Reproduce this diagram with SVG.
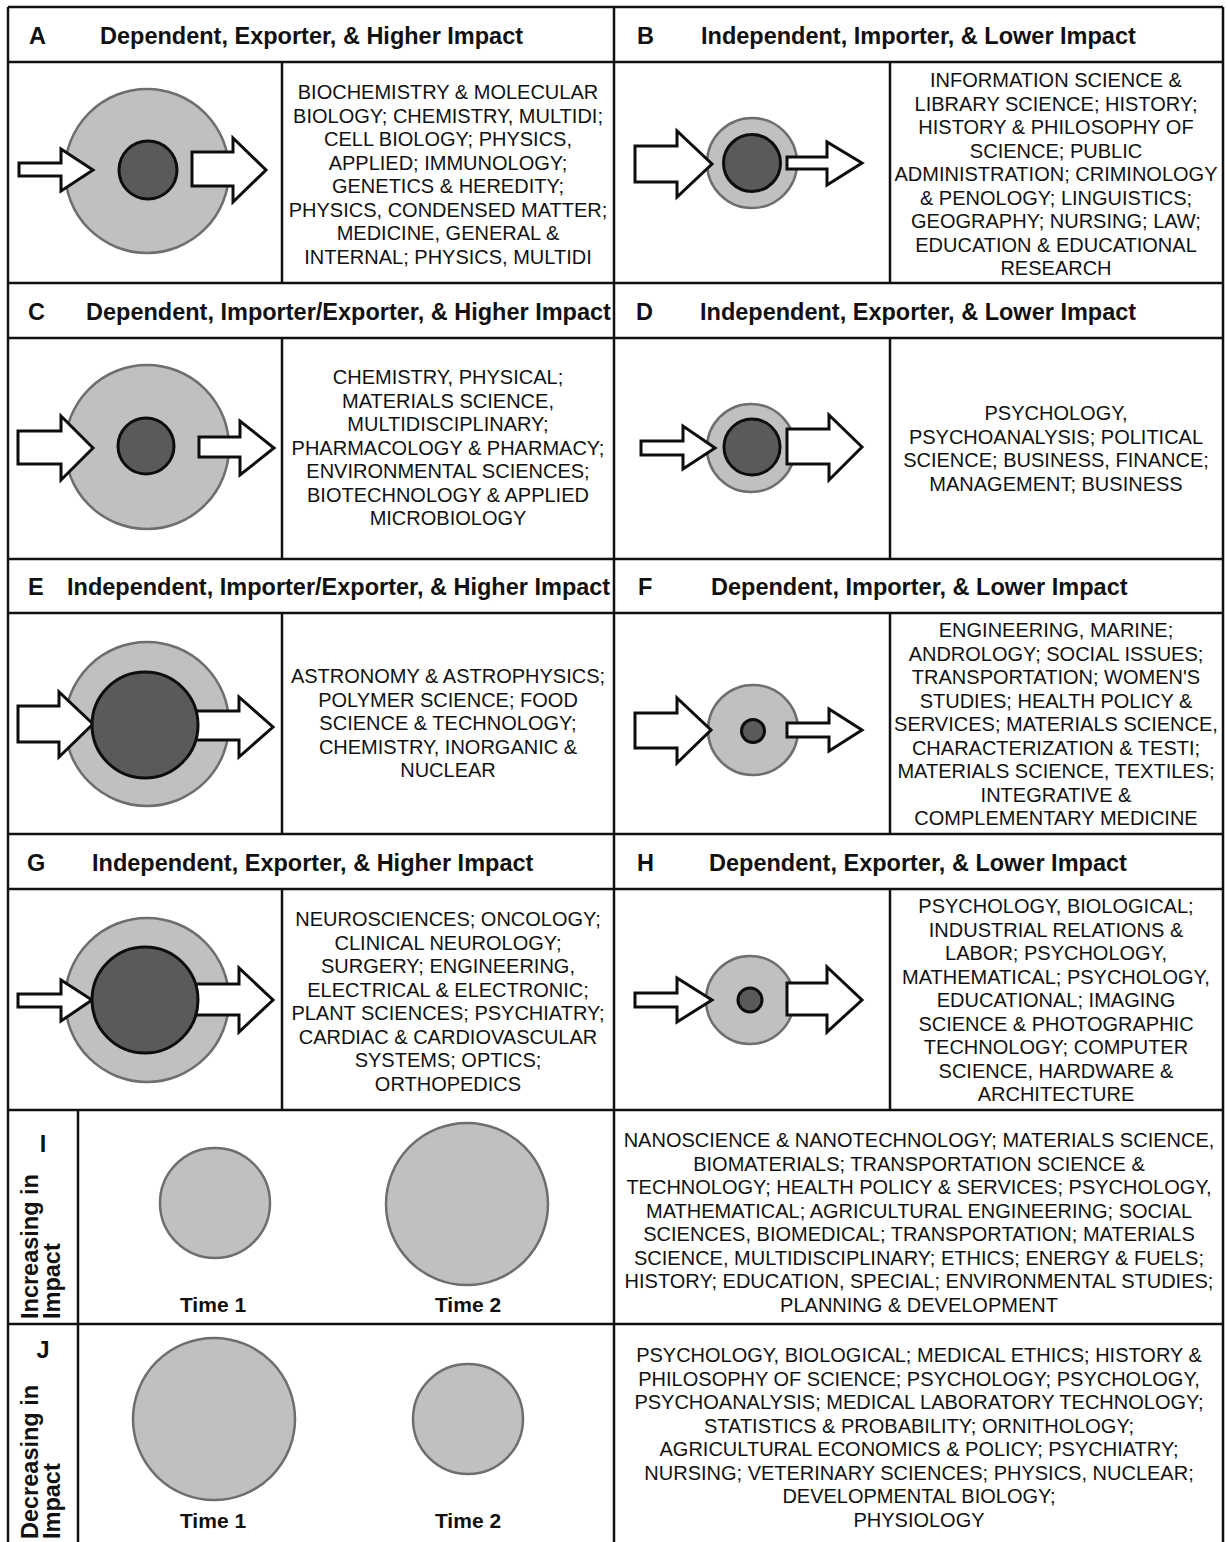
<svg xmlns="http://www.w3.org/2000/svg" width="1228" height="1542" viewBox="0 0 1228 1542">
<style>
.grid{stroke:#111;stroke-width:2.5;fill:none}
.outer{fill:#c0c0c0;stroke:#6e6e6e;stroke-width:2.5}
.inner{fill:#5a5a5a;stroke:#0d0d0d;stroke-width:3}
.arrow{fill:#fff;stroke:#0d0d0d;stroke-width:3;stroke-linejoin:miter}
.hd{font-family:"Liberation Sans",Arial,sans-serif;font-weight:bold;font-size:23.5px;fill:#111}
.body{font-family:"Liberation Sans",Arial,sans-serif;font-size:20px;fill:#111;text-anchor:middle}
.time{font-family:"Liberation Sans",Arial,sans-serif;font-weight:bold;font-size:21px;fill:#111;text-anchor:middle}
</style>
<rect width="1228" height="1542" fill="#fff"/>
<g id="grid" class="grid">
<line x1="8" y1="7" x2="1223" y2="7"/>
<line x1="8" y1="62" x2="1223" y2="62"/>
<line x1="8" y1="283" x2="1223" y2="283"/>
<line x1="8" y1="338" x2="1223" y2="338"/>
<line x1="8" y1="559" x2="1223" y2="559"/>
<line x1="8" y1="613" x2="1223" y2="613"/>
<line x1="8" y1="834" x2="1223" y2="834"/>
<line x1="8" y1="889" x2="1223" y2="889"/>
<line x1="8" y1="1110" x2="1223" y2="1110"/>
<line x1="8" y1="1324" x2="1223" y2="1324"/>
<line x1="8" y1="7" x2="8" y2="1542"/>
<line x1="1223" y1="7" x2="1223" y2="1542"/>
<line x1="614" y1="7" x2="614" y2="1542"/>
<line x1="282" y1="62" x2="282" y2="283"/>
<line x1="282" y1="338" x2="282" y2="559"/>
<line x1="282" y1="613" x2="282" y2="834"/>
<line x1="282" y1="889" x2="282" y2="1110"/>
<line x1="890" y1="62" x2="890" y2="283"/>
<line x1="890" y1="338" x2="890" y2="559"/>
<line x1="890" y1="613" x2="890" y2="834"/>
<line x1="890" y1="889" x2="890" y2="1110"/>
<line x1="78" y1="1110" x2="78" y2="1542"/>
</g>
<g id="connectors"></g>

<g id="panel-A">
<text class="hd" x="29" y="44">A</text>
<text class="hd" x="100" y="44">Dependent, Exporter, &amp; Higher Impact</text>
<circle class="outer" cx="147" cy="171" r="82"/>
<circle class="inner" cx="148" cy="170" r="29"/>
<polygon class="arrow" points="19,163 61,163 61,149 93,170 61,191 61,176 19,176"/>
<polygon class="arrow" points="192,152 233,152 233,138 266,170 233,202 233,186 192,186"/>
<text class="body" y="99"><tspan x="448">BIOCHEMISTRY &amp; MOLECULAR</tspan><tspan x="448" dy="23.5">BIOLOGY; CHEMISTRY, MULTIDI;</tspan><tspan x="448" dy="23.5">CELL BIOLOGY; PHYSICS,</tspan><tspan x="448" dy="23.5">APPLIED; IMMUNOLOGY;</tspan><tspan x="448" dy="23.5">GENETICS &amp; HEREDITY;</tspan><tspan x="448" dy="23.5">PHYSICS, CONDENSED MATTER;</tspan><tspan x="448" dy="23.5">MEDICINE, GENERAL &amp;</tspan><tspan x="448" dy="23.5">INTERNAL; PHYSICS, MULTIDI</tspan></text>
</g>

<g id="panel-B">
<text class="hd" x="637" y="44">B</text>
<text class="hd" x="701" y="44">Independent, Importer, &amp; Lower Impact</text>
<circle class="outer" cx="752" cy="163" r="45"/>
<circle class="inner" cx="752" cy="163" r="28.5"/>
<polygon class="arrow" points="635,146 677,146 677,131 712,164 677,197 677,182 635,182"/>
<polygon class="arrow" points="787,157 827,157 827,142 862,163 827,185 827,169 787,169"/>
<text class="body" y="87"><tspan x="1056">INFORMATION SCIENCE &amp;</tspan><tspan x="1056" dy="23.5">LIBRARY SCIENCE; HISTORY;</tspan><tspan x="1056" dy="23.5">HISTORY &amp; PHILOSOPHY OF</tspan><tspan x="1056" dy="23.5">SCIENCE; PUBLIC</tspan><tspan x="1056" dy="23.5">ADMINISTRATION; CRIMINOLOGY</tspan><tspan x="1056" dy="23.5">&amp; PENOLOGY; LINGUISTICS;</tspan><tspan x="1056" dy="23.5">GEOGRAPHY; NURSING; LAW;</tspan><tspan x="1056" dy="23.5">EDUCATION &amp; EDUCATIONAL</tspan><tspan x="1056" dy="23.5">RESEARCH</tspan></text>
</g>

<g id="panel-C">
<text class="hd" x="28" y="320">C</text>
<text class="hd" x="86" y="320">Dependent, Importer/Exporter, &amp; Higher Impact</text>
<circle class="outer" cx="147" cy="447" r="82"/>
<circle class="inner" cx="146" cy="446" r="28"/>
<polygon class="arrow" points="18,431 61,431 61,416 93,448 61,480 61,464 18,464"/>
<polygon class="arrow" points="199,437 240,437 240,421 274,448 240,475 240,457 199,457"/>
<text class="body" y="384"><tspan x="448">CHEMISTRY, PHYSICAL;</tspan><tspan x="448" dy="23.5">MATERIALS SCIENCE,</tspan><tspan x="448" dy="23.5">MULTIDISCIPLINARY;</tspan><tspan x="448" dy="23.5">PHARMACOLOGY &amp; PHARMACY;</tspan><tspan x="448" dy="23.5">ENVIRONMENTAL SCIENCES;</tspan><tspan x="448" dy="23.5">BIOTECHNOLOGY &amp; APPLIED</tspan><tspan x="448" dy="23.5">MICROBIOLOGY</tspan></text>
</g>

<g id="panel-D">
<text class="hd" x="636" y="320">D</text>
<text class="hd" x="700" y="320">Independent, Exporter, &amp; Lower Impact</text>
<circle class="outer" cx="751" cy="448" r="44"/>
<circle class="inner" cx="752" cy="447" r="28"/>
<polygon class="arrow" points="641,441 683,441 683,426 715,448 683,469 683,455 641,455"/>
<polygon class="arrow" points="787,429 829,429 829,415 862,447 829,480 829,464 787,464"/>
<text class="body" y="420"><tspan x="1056">PSYCHOLOGY,</tspan><tspan x="1056" dy="23.5">PSYCHOANALYSIS; POLITICAL</tspan><tspan x="1056" dy="23.5">SCIENCE; BUSINESS, FINANCE;</tspan><tspan x="1056" dy="23.5">MANAGEMENT; BUSINESS</tspan></text>
</g>

<g id="panel-E">
<text class="hd" x="28" y="595">E</text>
<text class="hd" x="67" y="595">Independent, Importer/Exporter, &amp; Higher Impact</text>
<circle class="outer" cx="147" cy="724" r="82"/>
<polygon class="arrow" points="18,706 59,706 59,692 93,724 59,757 59,742 18,742"/>
<polygon class="arrow" points="190,711 239,711 239,697 273,727 239,757 239,740 190,740"/>
<circle class="inner" cx="145" cy="725" r="53"/>
<text class="body" y="683"><tspan x="448">ASTRONOMY &amp; ASTROPHYSICS;</tspan><tspan x="448" dy="23.5">POLYMER SCIENCE; FOOD</tspan><tspan x="448" dy="23.5">SCIENCE &amp; TECHNOLOGY;</tspan><tspan x="448" dy="23.5">CHEMISTRY, INORGANIC &amp;</tspan><tspan x="448" dy="23.5">NUCLEAR</tspan></text>
</g>

<g id="panel-F">
<text class="hd" x="638" y="595">F</text>
<text class="hd" x="711" y="595">Dependent, Importer, &amp; Lower Impact</text>
<circle class="outer" cx="753" cy="730" r="45"/>
<circle class="inner" cx="753" cy="731" r="11.5"/>
<polygon class="arrow" points="635,713 677,713 677,698 711,730 677,763 677,748 635,748"/>
<polygon class="arrow" points="787,723 829,723 829,709 862,730 829,751 829,737 787,737"/>
<text class="body" y="637"><tspan x="1056">ENGINEERING, MARINE;</tspan><tspan x="1056" dy="23.5">ANDROLOGY; SOCIAL ISSUES;</tspan><tspan x="1056" dy="23.5">TRANSPORTATION; WOMEN'S</tspan><tspan x="1056" dy="23.5">STUDIES; HEALTH POLICY &amp;</tspan><tspan x="1056" dy="23.5">SERVICES; MATERIALS SCIENCE,</tspan><tspan x="1056" dy="23.5">CHARACTERIZATION &amp; TESTI;</tspan><tspan x="1056" dy="23.5">MATERIALS SCIENCE, TEXTILES;</tspan><tspan x="1056" dy="23.5">INTEGRATIVE &amp;</tspan><tspan x="1056" dy="23.5">COMPLEMENTARY MEDICINE</tspan></text>
</g>

<g id="panel-G">
<text class="hd" x="27" y="871">G</text>
<text class="hd" x="92" y="871">Independent, Exporter, &amp; Higher Impact</text>
<circle class="outer" cx="147" cy="1000" r="82"/>
<polygon class="arrow" points="18,994 61,994 61,980 92,1000 61,1021 61,1007 18,1007"/>
<polygon class="arrow" points="190,984 239,984 239,968 273,1000 239,1032 239,1015 190,1015"/>
<circle class="inner" cx="145" cy="1000" r="53"/>
<text class="body" y="926"><tspan x="448">NEUROSCIENCES; ONCOLOGY;</tspan><tspan x="448" dy="23.5">CLINICAL NEUROLOGY;</tspan><tspan x="448" dy="23.5">SURGERY; ENGINEERING,</tspan><tspan x="448" dy="23.5">ELECTRICAL &amp; ELECTRONIC;</tspan><tspan x="448" dy="23.5">PLANT SCIENCES; PSYCHIATRY;</tspan><tspan x="448" dy="23.5">CARDIAC &amp; CARDIOVASCULAR</tspan><tspan x="448" dy="23.5">SYSTEMS; OPTICS;</tspan><tspan x="448" dy="23.5">ORTHOPEDICS</tspan></text>
</g>

<g id="panel-H">
<text class="hd" x="637" y="871">H</text>
<text class="hd" x="709" y="871">Dependent, Exporter, &amp; Lower Impact</text>
<circle class="outer" cx="750" cy="1000" r="44"/>
<circle class="inner" cx="750" cy="1000" r="12"/>
<polygon class="arrow" points="635,993 677,993 677,978 712,1000 677,1022 677,1007 635,1007"/>
<polygon class="arrow" points="787,983 827,983 827,967 862,1000 827,1032 827,1015 787,1015"/>
<text class="body" y="913"><tspan x="1056">PSYCHOLOGY, BIOLOGICAL;</tspan><tspan x="1056" dy="23.5">INDUSTRIAL RELATIONS &amp;</tspan><tspan x="1056" dy="23.5">LABOR; PSYCHOLOGY,</tspan><tspan x="1056" dy="23.5">MATHEMATICAL; PSYCHOLOGY,</tspan><tspan x="1056" dy="23.5">EDUCATIONAL; IMAGING</tspan><tspan x="1056" dy="23.5">SCIENCE &amp; PHOTOGRAPHIC</tspan><tspan x="1056" dy="23.5">TECHNOLOGY; COMPUTER</tspan><tspan x="1056" dy="23.5">SCIENCE, HARDWARE &amp;</tspan><tspan x="1056" dy="23.5">ARCHITECTURE</tspan></text>
</g>

<g id="panel-I">
<text class="hd" x="43" y="1152" text-anchor="middle">I</text>
<text class="hd" transform="translate(38,1319) rotate(-90)">Increasing in</text>
<text class="hd" transform="translate(60,1319) rotate(-90)">Impact</text>
<circle class="outer" cx="215" cy="1203" r="55"/>
<circle class="outer" cx="467" cy="1204" r="81"/>
<text class="time" x="213" y="1312">Time 1</text>
<text class="time" x="468" y="1312">Time 2</text>
<text class="body" y="1147"><tspan x="919">NANOSCIENCE &amp; NANOTECHNOLOGY; MATERIALS SCIENCE,</tspan><tspan x="919" dy="23.5">BIOMATERIALS; TRANSPORTATION SCIENCE &amp;</tspan><tspan x="919" dy="23.5">TECHNOLOGY; HEALTH POLICY &amp; SERVICES; PSYCHOLOGY,</tspan><tspan x="919" dy="23.5">MATHEMATICAL; AGRICULTURAL ENGINEERING; SOCIAL</tspan><tspan x="919" dy="23.5">SCIENCES, BIOMEDICAL; TRANSPORTATION; MATERIALS</tspan><tspan x="919" dy="23.5">SCIENCE, MULTIDISCIPLINARY; ETHICS; ENERGY &amp; FUELS;</tspan><tspan x="919" dy="23.5">HISTORY; EDUCATION, SPECIAL; ENVIRONMENTAL STUDIES;</tspan><tspan x="919" dy="23.5">PLANNING &amp; DEVELOPMENT</tspan></text>
</g>

<g id="panel-J">
<text class="hd" x="43" y="1358" text-anchor="middle">J</text>
<text class="hd" transform="translate(38,1539) rotate(-90)">Decreasing in</text>
<text class="hd" transform="translate(60,1539) rotate(-90)">Impact</text>
<circle class="outer" cx="214" cy="1419" r="81"/>
<circle class="outer" cx="468" cy="1419" r="55"/>
<text class="time" x="213" y="1528">Time 1</text>
<text class="time" x="468" y="1528">Time 2</text>
<text class="body" y="1362"><tspan x="919">PSYCHOLOGY, BIOLOGICAL; MEDICAL ETHICS; HISTORY &amp;</tspan><tspan x="919" dy="23.5">PHILOSOPHY OF SCIENCE; PSYCHOLOGY; PSYCHOLOGY,</tspan><tspan x="919" dy="23.5">PSYCHOANALYSIS; MEDICAL LABORATORY TECHNOLOGY;</tspan><tspan x="919" dy="23.5">STATISTICS &amp; PROBABILITY; ORNITHOLOGY;</tspan><tspan x="919" dy="23.5">AGRICULTURAL ECONOMICS &amp; POLICY; PSYCHIATRY;</tspan><tspan x="919" dy="23.5">NURSING; VETERINARY SCIENCES; PHYSICS, NUCLEAR;</tspan><tspan x="919" dy="23.5">DEVELOPMENTAL BIOLOGY;</tspan><tspan x="919" dy="23.5">PHYSIOLOGY</tspan></text>
</g>
</svg>
